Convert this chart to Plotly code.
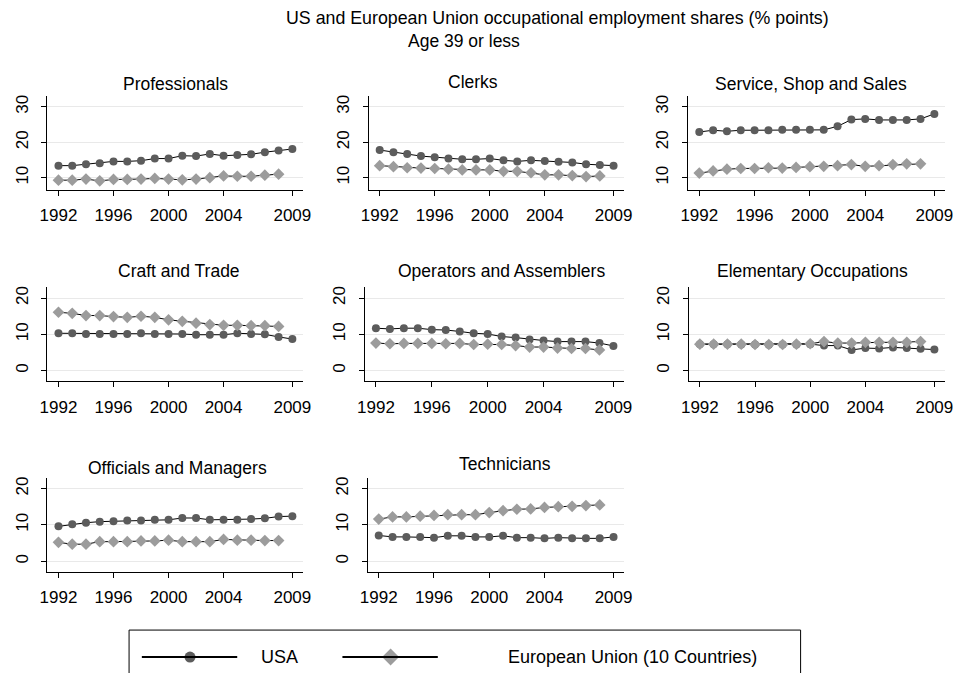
import plotly.graph_objects as go

# ── Data (shares in % points) ───────────────────────────────────────────────
YEARS_USA = list(range(1992, 2010))
YEARS_EU = list(range(1992, 2009))

PROF_USA = [13.4, 13.4, 13.8, 14.1, 14.6, 14.6, 14.8, 15.4, 15.4, 16.2, 16.1, 16.7, 16.2, 16.4, 16.6, 17.2, 17.7, 18.1]
PROF_EU = [9.3, 9.3, 9.6, 9.1, 9.5, 9.5, 9.6, 9.8, 9.6, 9.4, 9.6, 10.0, 10.5, 10.4, 10.4, 10.7, 11.0]

CLERK_USA = [17.8, 17.2, 16.7, 16.1, 15.8, 15.4, 15.2, 15.2, 15.4, 14.9, 14.6, 14.9, 14.7, 14.5, 14.3, 13.8, 13.6, 13.4]
CLERK_EU = [13.4, 13.1, 12.8, 12.7, 12.6, 12.4, 12.2, 12.2, 12.2, 11.8, 11.8, 11.4, 10.8, 10.8, 10.6, 10.3, 10.5]

SERV_USA = [22.9, 23.4, 23.1, 23.4, 23.4, 23.4, 23.5, 23.5, 23.5, 23.5, 24.5, 26.4, 26.6, 26.3, 26.3, 26.3, 26.6, 28.0]
SERV_EU = [11.3, 11.9, 12.4, 12.6, 12.6, 12.8, 12.7, 12.9, 13.1, 13.2, 13.4, 13.7, 13.2, 13.4, 13.7, 13.9, 13.9]

CRAFT_USA = [10.3, 10.3, 10.1, 10.1, 10.1, 10.1, 10.3, 10.1, 10.1, 10.1, 9.9, 9.9, 9.9, 10.3, 10.1, 10.0, 9.3, 8.7]
CRAFT_EU = [16.1, 15.8, 15.2, 15.2, 14.9, 14.7, 15.0, 14.7, 14.0, 13.6, 13.1, 12.7, 12.5, 12.5, 12.4, 12.4, 12.2]

OPER_USA = [11.7, 11.5, 11.7, 11.7, 11.3, 11.2, 10.8, 10.3, 10.1, 9.4, 9.1, 8.6, 8.3, 8.0, 8.0, 8.0, 7.6, 6.8]
OPER_EU = [7.6, 7.4, 7.5, 7.5, 7.5, 7.4, 7.5, 7.2, 7.3, 7.2, 6.9, 6.5, 6.5, 6.2, 6.1, 6.1, 5.7]

ELEM_USA = [7.3, 7.3, 7.3, 7.2, 7.2, 7.1, 7.2, 7.2, 7.3, 6.9, 6.9, 5.7, 6.2, 6.1, 6.4, 6.2, 6.0, 5.8]
ELEM_EU = [7.3, 7.3, 7.3, 7.3, 7.2, 7.2, 7.2, 7.3, 7.4, 8.0, 7.6, 7.6, 7.8, 7.8, 7.8, 7.8, 8.0]

OFFI_USA = [9.6, 10.2, 10.6, 10.9, 11.0, 11.2, 11.2, 11.4, 11.4, 11.9, 11.9, 11.4, 11.4, 11.4, 11.6, 11.8, 12.3, 12.4]
OFFI_EU = [5.2, 4.7, 4.7, 5.4, 5.4, 5.4, 5.6, 5.6, 5.8, 5.4, 5.4, 5.4, 6.0, 5.8, 5.8, 5.7, 5.7]

TECH_USA = [7.1, 6.7, 6.7, 6.7, 6.5, 7.0, 7.0, 6.7, 6.7, 7.0, 6.5, 6.5, 6.3, 6.5, 6.3, 6.3, 6.3, 6.7]
TECH_EU = [11.6, 12.2, 12.2, 12.4, 12.6, 12.8, 12.8, 12.8, 13.4, 13.9, 14.3, 14.4, 14.8, 15.0, 15.1, 15.3, 15.5]

X_TICKS = [1992, 1996, 2000, 2004, 2009]
Y_TICKS_TOP = [10, 20, 30]
Y_TICKS_LOW = [0, 10, 20]

TITLE = "US and European Union occupational employment shares (% points)"
SUBTITLE = "Age 39 or less"
LEGEND_USA = "USA"
LEGEND_EU = "European Union (10 Countries)"

# ── Layout (pixel geometry of the 961x673 window) ───────────────────────────
# the page body has an 8px margin, so the figure is shrunk and shifted by it
OFF = 8
WIN_W, WIN_H = 961, 673
W, H = WIN_W - OFF, WIN_H - OFF
FONT = "Liberation Sans, Arial, Helvetica, sans-serif"
USA_COLOR = "#5c5c5c"
EU_COLOR = "#9c9c9c"
GRID = "#e9e9e9"

# name, usa, eu, (left, right, top, bottom) px, title centre (x, y) px, row
PANELS = [
    ("Professionals", PROF_USA, PROF_EU, (40, 300, 95, 189), (170, 83), 0),
    ("Clerks", CLERK_USA, CLERK_EU, (366.7, 626.7, 95, 189), (473, 81), 0),
    ("Service, Shop and Sales", SERV_USA, SERV_EU, (691.7, 953, 95, 189), (817, 83), 0),
    ("Craft and Trade", CRAFT_USA, CRAFT_EU, (40, 300, 286.7, 381), (174, 270), 1),
    ("Operators and Assemblers", OPER_USA, OPER_EU, (362.7, 626.7, 286.7, 381), (502, 270), 1),
    ("Elementary Occupations", ELEM_USA, ELEM_EU, (692.3, 953, 286.7, 381), (818, 270), 1),
    ("Officials and Managers", OFFI_USA, OFFI_EU, (40, 300, 477.3, 571.7), (172, 468), 2),
    ("Technicians", TECH_USA, TECH_EU, (365.7, 626.7, 477.3, 571.7), (505, 464), 2),
]
Y_RANGES = [[6.6, 33.1], [-3.0, 23.0], [-2.9, 23.0]]


def px_x(p):
    return (p - OFF) / W


def px_y(p):
    return 1 - (p - OFF) / H


fig = go.Figure()
annotations = []

for i, (name, usa, eu, (l, r, t, b), (tx, ty), row) in enumerate(PANELS, start=1):
    sfx = "" if i == 1 else str(i)
    fig.add_trace(go.Scatter(
        x=YEARS_USA, y=usa, mode="lines+markers", name="USA",
        line=dict(color="black", width=1),
        marker=dict(symbol="circle", size=8, color=USA_COLOR),
        xaxis="x" + sfx, yaxis="y" + sfx, showlegend=False,
    ))
    fig.add_trace(go.Scatter(
        x=YEARS_EU, y=eu, mode="lines+markers", name="European Union",
        line=dict(color="black", width=1),
        marker=dict(symbol="diamond", size=9, color=EU_COLOR),
        xaxis="x" + sfx, yaxis="y" + sfx, showlegend=False,
    ))
    fig.layout["xaxis" + sfx] = dict(
        domain=[px_x(l), px_x(r)], anchor="y" + sfx,
        range=[1991.2, 2009.78], tickvals=X_TICKS,
        showgrid=False, zeroline=False,
        showline=True, linecolor="black", linewidth=1,
        ticks="outside", ticklen=5, tickcolor="black",
        ticklabelstandoff=5,
        tickfont=dict(size=17, color="black", family=FONT),
    )
    fig.layout["yaxis" + sfx] = dict(
        domain=[px_y(b), px_y(t)], anchor="x" + sfx,
        range=Y_RANGES[row],
        tickvals=Y_TICKS_TOP if row == 0 else Y_TICKS_LOW,
        showgrid=True, gridcolor=GRID, gridwidth=1, zeroline=False,
        showline=True, linecolor="black", linewidth=1,
        ticks="outside", ticklen=5, tickcolor="black", tickangle=-90,
        ticklabelstandoff=7,
        tickfont=dict(size=17, color="black", family=FONT),
    )
    annotations.append(dict(
        text=name, x=px_x(tx), y=px_y(ty), xref="paper", yref="paper",
        xanchor="center", yanchor="middle", showarrow=False,
        font=dict(size=17.5, color="black", family=FONT),
    ))

# ── Titles ───────────────────────────────────────────────────────────────────
annotations.append(dict(
    text=TITLE, x=px_x(559), y=px_y(17), xref="paper", yref="paper",
    xanchor="center", yanchor="middle", showarrow=False,
    font=dict(size=17.8, color="black", family=FONT),
))
annotations.append(dict(
    text=SUBTITLE, x=px_x(464), y=px_y(40), xref="paper", yref="paper",
    xanchor="center", yanchor="middle", showarrow=False,
    font=dict(size=17.5, color="black", family=FONT),
))

# ── Legend (drawn by hand, Stata style) ──────────────────────────────────────
LEG_Y = 657
shapes = [
    dict(type="rect", xref="paper", yref="paper",
         x0=px_x(123), x1=px_x(806), y0=px_y(630), y1=px_y(690),
         line=dict(color="black", width=1), fillcolor="rgba(0,0,0,0)", layer="below"),
    dict(type="line", xref="paper", yref="paper",
         x0=px_x(136), x1=px_x(233), y0=px_y(LEG_Y), y1=px_y(LEG_Y),
         line=dict(color="black", width=2)),
    dict(type="line", xref="paper", yref="paper",
         x0=px_x(340), x1=px_x(437), y0=px_y(LEG_Y), y1=px_y(LEG_Y),
         line=dict(color="black", width=2)),
]
fig.add_trace(go.Scatter(
    x=[185], y=[LEG_Y], mode="markers", xaxis="x9", yaxis="y9",
    marker=dict(symbol="circle", size=11, color=USA_COLOR), showlegend=False,
    hoverinfo="skip",
))
fig.add_trace(go.Scatter(
    x=[389], y=[LEG_Y], mode="markers", xaxis="x9", yaxis="y9",
    marker=dict(symbol="diamond", size=13, color=EU_COLOR), showlegend=False,
    hoverinfo="skip",
))
fig.layout["xaxis9"] = dict(domain=[0, 1], range=[OFF, WIN_W], visible=False, anchor="y9")
fig.layout["yaxis9"] = dict(domain=[0, 1], range=[WIN_H, OFF], visible=False, anchor="x9")

annotations.append(dict(
    text=LEGEND_USA, x=px_x(255), y=px_y(LEG_Y), xref="paper", yref="paper",
    xanchor="left", yanchor="middle", showarrow=False,
    font=dict(size=18, color="black", family=FONT),
))
annotations.append(dict(
    text=LEGEND_EU, x=px_x(506), y=px_y(LEG_Y), xref="paper", yref="paper",
    xanchor="left", yanchor="middle", showarrow=False,
    font=dict(size=18, color="black", family=FONT),
))

fig.update_layout(
    width=W, height=H,
    margin=dict(l=0, r=0, t=0, b=0),
    plot_bgcolor="rgba(0,0,0,0)", paper_bgcolor="white",
    font=dict(family=FONT, color="black"),
    annotations=annotations,
    shapes=shapes,
    showlegend=False,
)

fig.write_html("out.html")
